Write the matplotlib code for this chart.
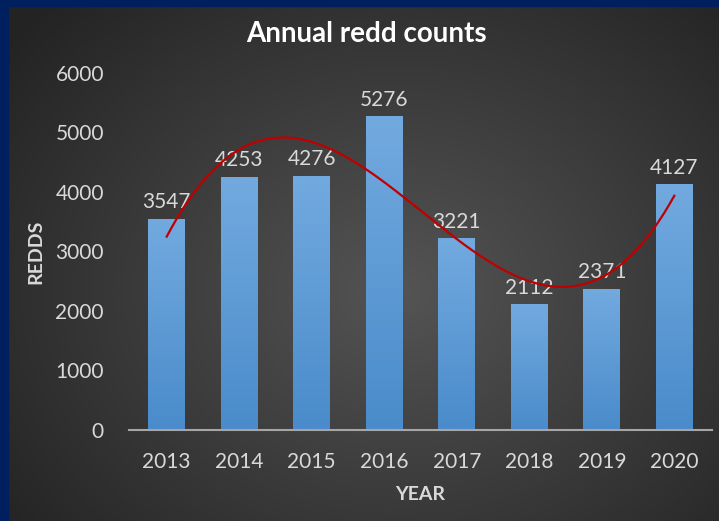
import numpy as np
import matplotlib.pyplot as plt
from matplotlib.patches import Rectangle
from matplotlib.colors import LinearSegmentedColormap

years = ["2013", "2014", "2015", "2016", "2017", "2018", "2019", "2020"]
redds = [3547, 4253, 4276, 5276, 3221, 2112, 2371, 4127]

plt.rcParams["font.family"] = ["Lato", "DejaVu Sans"]
txt = "#D9D9D9"

fig = plt.figure(figsize=(7.19, 5.21), dpi=100)

# radial dark background
bg = fig.add_axes([0, 0, 1, 1], zorder=-10)
yy, xx = np.mgrid[0:521, 0:719]
r = np.sqrt(((xx - 400) / 520.0) ** 2 + ((yy - 290) / 420.0) ** 2)
shade = np.clip(0.33 - 0.2 * r, 0.14, 0.34)
bg.imshow(np.dstack([shade] * 3), aspect="auto", extent=[0, 719, 521, 0])
bg.add_patch(Rectangle((0, 0), 719, 6, color="#001F5F"))
bg.add_patch(Rectangle((0, 0), 8, 521, color="#001F5F"))
bg.set_xlim(0, 719)
bg.set_ylim(521, 0)
bg.axis("off")

ax = fig.add_axes([0.1794, 0.1747, 0.8109, 0.6852])
ax.patch.set_alpha(0)
x = np.arange(len(years))
bars = ax.bar(x, redds, width=0.51, color="none", edgecolor="none", zorder=2)

# vertical gradient inside each bar
grad = np.linspace(1, 0, 256).reshape(-1, 1)
cmap = LinearSegmentedColormap.from_list("b", ["#4A8BCB", "#72AADF"])
for b in bars:
    im = ax.imshow(grad, cmap=cmap, aspect="auto", zorder=2,
                   extent=[b.get_x(), b.get_x() + b.get_width(), 0, b.get_height()])
    im.set_clip_path(b)

for xi, v in zip(x, redds):
    ax.text(xi, v + 110, str(v), ha="center", va="bottom", color=txt, fontsize=15)

# 3rd order polynomial trendline
coef = np.polyfit(x, redds, 3)
xs = np.linspace(0, len(years) - 1, 200)
ax.plot(xs, np.polyval(coef, xs), color="#C00000", lw=1.6, zorder=3)

ax.set_xlim(-0.52, len(years) - 0.48)
ax.set_ylim(0, 6000)
ax.set_yticks(range(0, 6001, 1000))
ax.set_xticks(x)
ax.set_xticklabels(years)
ax.tick_params(colors=txt, labelsize=15, length=0)
ax.tick_params(axis="y", pad=18)
ax.tick_params(axis="x", pad=16)
for s in ["top", "right", "left"]:
    ax.spines[s].set_visible(False)
ax.spines["bottom"].set_color("#A6A6A6")
ax.spines["bottom"].set_linewidth(1.5)

ax.set_xlabel("YEAR", color=txt, fontsize=14, fontweight="bold", labelpad=10)
ax.set_ylabel("REDDS", color=txt, fontsize=14, fontweight="bold", labelpad=8)
fig.text(0.51, 0.935, "Annual redd counts", ha="center", va="center",
         color="white", fontsize=20, fontweight="bold")

fig.savefig("out.png", dpi=100)
